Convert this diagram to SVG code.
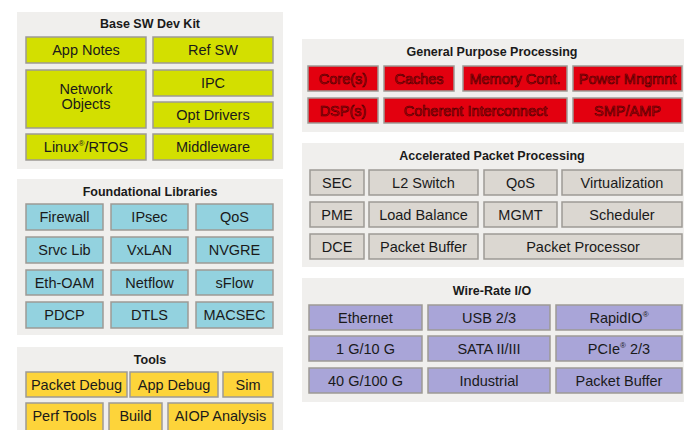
<svg xmlns="http://www.w3.org/2000/svg" width="684" height="430" viewBox="0 0 684 430">
<style>
.panel{fill:#f0efed}
.title{font-family:"Liberation Sans",Arial,sans-serif;font-weight:bold;font-size:12.5px;fill:#1a1a1a;text-anchor:middle;dominant-baseline:central}
.t{font-family:"Liberation Sans",Arial,sans-serif;font-size:14.5px;fill:#1a1a1a;text-anchor:middle;dominant-baseline:central}
.tr{font-family:"Liberation Sans",Arial,sans-serif;font-size:14.5px;fill:#c4000c;stroke:#4a0000;stroke-width:0.6;text-anchor:middle;dominant-baseline:central}
.b{stroke:#9d9a95;stroke-width:1.5}
.lime{fill:#d3df00}
.blue{fill:#93d2df}
.yel{fill:#fdd43a}
.red{fill:#e3000f}
.gray{fill:#dbd7d1}
.pur{fill:#a9a5d8}
.sup{font-size:8px}
</style>
<rect width="684" height="430" fill="#ffffff"/>

<g id="base-sw-dev-kit">
<rect class="panel" x="17" y="12" width="266" height="157"/>
<text class="title" x="150" y="24">Base SW Dev Kit</text>
<g id="app-notes"><rect class="b lime" x="26" y="37" width="120" height="26"/><text class="t" x="86" y="50">App Notes</text></g>
<g id="ref-sw"><rect class="b lime" x="153" y="37" width="120" height="26"/><text class="t" x="213" y="50">Ref SW</text></g>
<g id="network-objects"><rect class="b lime" x="26" y="70" width="120" height="58"/><text class="t" x="86" y="89">Network</text><text class="t" x="86" y="104">Objects</text></g>
<g id="ipc"><rect class="b lime" x="153" y="70" width="120" height="26"/><text class="t" x="213" y="83">IPC</text></g>
<g id="opt-drivers"><rect class="b lime" x="153" y="102" width="120" height="26"/><text class="t" x="213" y="115">Opt Drivers</text></g>
<g id="linux-rtos"><rect class="b lime" x="26" y="134" width="120" height="26"/><text class="t" x="86" y="147">Linux<tspan class="sup" dy="-4">®</tspan><tspan dy="4">/RTOS</tspan></text></g>
<g id="middleware"><rect class="b lime" x="153" y="134" width="120" height="26"/><text class="t" x="213" y="147">Middleware</text></g>
</g>

<g id="foundational-libraries">
<rect class="panel" x="17" y="179" width="266" height="156"/>
<text class="title" x="150" y="192">Foundational Libraries</text>
<g id="firewall"><rect class="b blue" x="26" y="204" width="77" height="26"/><text class="t" x="64.5" y="217">Firewall</text></g>
<g id="ipsec"><rect class="b blue" x="111" y="204" width="77" height="26"/><text class="t" x="149.5" y="217">IPsec</text></g>
<g id="qos-lib"><rect class="b blue" x="196" y="204" width="77" height="26"/><text class="t" x="234.5" y="217">QoS</text></g>
<g id="srvc-lib"><rect class="b blue" x="26" y="237" width="77" height="26"/><text class="t" x="64.5" y="250">Srvc Lib</text></g>
<g id="vxlan"><rect class="b blue" x="111" y="237" width="77" height="26"/><text class="t" x="149.5" y="250">VxLAN</text></g>
<g id="nvgre"><rect class="b blue" x="196" y="237" width="77" height="26"/><text class="t" x="234.5" y="250">NVGRE</text></g>
<g id="eth-oam"><rect class="b blue" x="26" y="270" width="77" height="25"/><text class="t" x="64.5" y="282.5">Eth-OAM</text></g>
<g id="netflow"><rect class="b blue" x="111" y="270" width="77" height="25"/><text class="t" x="149.5" y="282.5">Netflow</text></g>
<g id="sflow"><rect class="b blue" x="196" y="270" width="77" height="25"/><text class="t" x="234.5" y="282.5">sFlow</text></g>
<g id="pdcp"><rect class="b blue" x="26" y="302" width="77" height="26"/><text class="t" x="64.5" y="315">PDCP</text></g>
<g id="dtls"><rect class="b blue" x="111" y="302" width="77" height="26"/><text class="t" x="149.5" y="315">DTLS</text></g>
<g id="macsec"><rect class="b blue" x="196" y="302" width="77" height="26"/><text class="t" x="234.5" y="315">MACSEC</text></g>
</g>

<g id="tools">
<rect class="panel" x="17" y="347" width="266" height="90"/>
<text class="title" x="150" y="360">Tools</text>
<g id="packet-debug"><rect class="b yel" x="26" y="372" width="101" height="25"/><text class="t" x="76.5" y="384.5">Packet Debug</text></g>
<g id="app-debug"><rect class="b yel" x="130" y="372" width="88" height="25"/><text class="t" x="174" y="384.5">App Debug</text></g>
<g id="sim"><rect class="b yel" x="223" y="372" width="50" height="25"/><text class="t" x="248" y="384.5">Sim</text></g>
<g id="perf-tools"><rect class="b yel" x="26" y="403" width="77" height="30"/><text class="t" x="64.5" y="416">Perf Tools</text></g>
<g id="build"><rect class="b yel" x="109" y="403" width="53" height="30"/><text class="t" x="135.5" y="416">Build</text></g>
<g id="aiop-analysis"><rect class="b yel" x="168" y="403" width="105" height="30"/><text class="t" x="220.5" y="416">AIOP Analysis</text></g>
</g>

<g id="general-purpose-processing">
<rect class="panel" x="302" y="39" width="382" height="93"/>
<text class="title" x="492" y="52">General Purpose Processing</text>
<g id="cores"><rect class="b red" x="308" y="66" width="70" height="25"/><text class="tr" x="343" y="78.5">Core(s)</text></g>
<g id="caches"><rect class="b red" x="384" y="66" width="70" height="25"/><text class="tr" x="419" y="78.5">Caches</text></g>
<g id="memory-cont"><rect class="b red" x="463" y="66" width="104" height="25"/><text class="tr" x="515" y="78.5">Memory Cont.</text></g>
<g id="power-mngmnt"><rect class="b red" x="573" y="66" width="109" height="25"/><text class="tr" x="627.5" y="78.5">Power Mngmnt</text></g>
<g id="dsps"><rect class="b red" x="308" y="98" width="70" height="25"/><text class="tr" x="343" y="110.5">DSP(s)</text></g>
<g id="coherent-interconnect"><rect class="b red" x="384" y="98" width="183" height="25"/><text class="tr" x="475.5" y="110.5">Coherent Interconnect</text></g>
<g id="smp-amp"><rect class="b red" x="573" y="98" width="109" height="25"/><text class="tr" x="627.5" y="110.5">SMP/AMP</text></g>
</g>

<g id="accelerated-packet-processing">
<rect class="panel" x="302" y="143" width="382" height="124"/>
<text class="title" x="492" y="156">Accelerated Packet Processing</text>
<g id="sec"><rect class="b gray" x="310" y="170" width="54" height="25"/><text class="t" x="337" y="182.5">SEC</text></g>
<g id="l2-switch"><rect class="b gray" x="369" y="170" width="109" height="25"/><text class="t" x="423.5" y="182.5">L2 Switch</text></g>
<g id="qos"><rect class="b gray" x="484" y="170" width="73" height="25"/><text class="t" x="520.5" y="182.5">QoS</text></g>
<g id="virtualization"><rect class="b gray" x="562" y="170" width="120" height="25"/><text class="t" x="622" y="182.5">Virtualization</text></g>
<g id="pme"><rect class="b gray" x="310" y="202" width="54" height="25"/><text class="t" x="337" y="214.5">PME</text></g>
<g id="load-balance"><rect class="b gray" x="369" y="202" width="109" height="25"/><text class="t" x="423.5" y="214.5">Load Balance</text></g>
<g id="mgmt"><rect class="b gray" x="484" y="202" width="73" height="25"/><text class="t" x="520.5" y="214.5">MGMT</text></g>
<g id="scheduler"><rect class="b gray" x="562" y="202" width="120" height="25"/><text class="t" x="622" y="214.5">Scheduler</text></g>
<g id="dce"><rect class="b gray" x="310" y="234" width="54" height="25"/><text class="t" x="337" y="246.5">DCE</text></g>
<g id="packet-buffer-app"><rect class="b gray" x="369" y="234" width="109" height="25"/><text class="t" x="423.5" y="246.5">Packet Buffer</text></g>
<g id="packet-processor"><rect class="b gray" x="484" y="234" width="198" height="25"/><text class="t" x="583" y="246.5">Packet Processor</text></g>
</g>

<g id="wire-rate-io">
<rect class="panel" x="302" y="278" width="382" height="124"/>
<text class="title" x="492" y="291">Wire-Rate I/O</text>
<g id="ethernet"><rect class="b pur" x="309" y="305" width="113" height="25"/><text class="t" x="365.5" y="317.5">Ethernet</text></g>
<g id="usb"><rect class="b pur" x="428" y="305" width="122" height="25"/><text class="t" x="489" y="317.5">USB 2/3</text></g>
<g id="rapidio"><rect class="b pur" x="556" y="305" width="126" height="25"/><text class="t" x="619" y="317.5">RapidIO<tspan class="sup" dy="-4">®</tspan></text></g>
<g id="g1-10"><rect class="b pur" x="309" y="336" width="113" height="25"/><text class="t" x="365.5" y="348.5">1 G/10 G</text></g>
<g id="sata"><rect class="b pur" x="428" y="336" width="122" height="25"/><text class="t" x="489" y="348.5">SATA II/III</text></g>
<g id="pcie"><rect class="b pur" x="556" y="336" width="126" height="25"/><text class="t" x="619" y="348.5">PCIe<tspan class="sup" dy="-4">®</tspan><tspan dy="4"> 2/3</tspan></text></g>
<g id="g40-100"><rect class="b pur" x="309" y="368" width="113" height="25"/><text class="t" x="365.5" y="380.5">40 G/100 G</text></g>
<g id="industrial"><rect class="b pur" x="428" y="368" width="122" height="25"/><text class="t" x="489" y="380.5">Industrial</text></g>
<g id="packet-buffer-io"><rect class="b pur" x="556" y="368" width="126" height="25"/><text class="t" x="619" y="380.5">Packet Buffer</text></g>
</g>

<g id="connectors"/>
</svg>
